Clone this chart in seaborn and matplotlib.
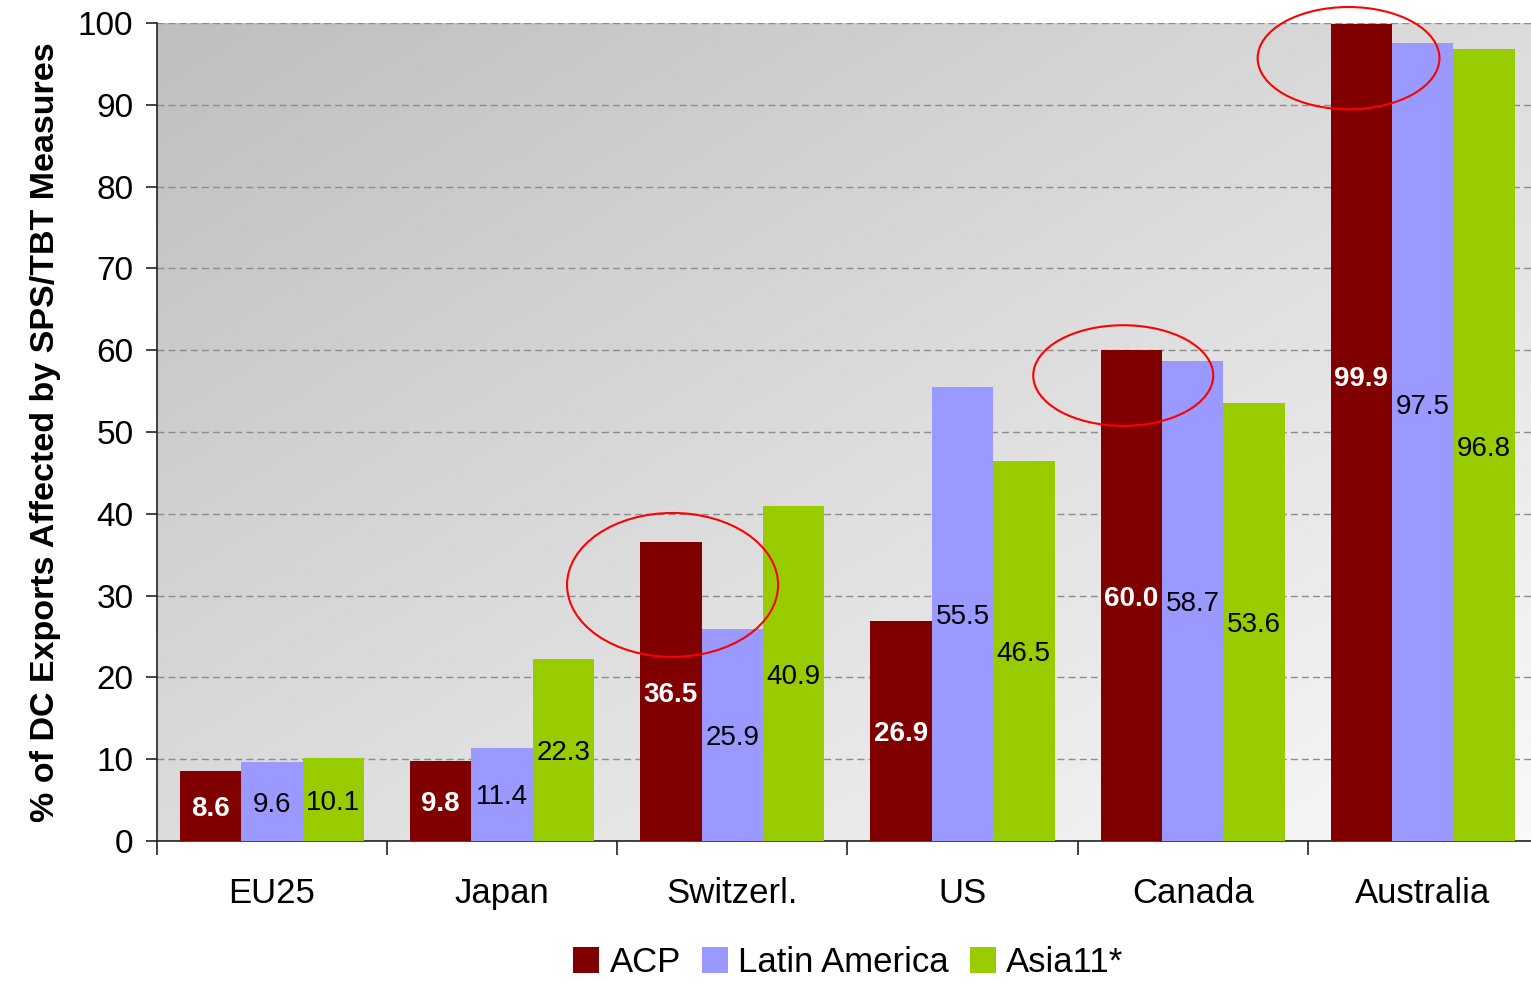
import numpy as np
import pandas as pd
import matplotlib
matplotlib.use("Agg")
import matplotlib.pyplot as plt
from matplotlib.patches import Ellipse, Patch
import seaborn as sns

# Share of developing-country exports affected by SPS/TBT measures
markets = ["EU25", "Japan", "Switzerl.", "US", "Canada", "Australia"]
groups = ["ACP", "Latin America", "Asia11*"]
acp = [8.6, 9.8, 36.5, 26.9, 60.0, 99.9]
latin_america = [9.6, 11.4, 25.9, 55.5, 58.7, 97.5]
asia11 = [10.1, 22.3, 40.9, 46.5, 53.6, 96.8]
y_ticks = list(range(0, 101, 10))
highlighted = ["Switzerl.", "Canada", "Australia"]

colors = ["#800000", "#9999FF", "#99CC00"]

df = pd.DataFrame({
    "market": np.repeat(markets, 3),
    "group": groups * len(markets),
    "value": np.ravel(np.column_stack([acp, latin_america, asia11])),
})

sns.set_theme(style="white")
plt.rcParams["font.family"] = ["Liberation Sans", "DejaVu Sans"]
plt.rcParams["text.color"] = "black"
plt.rcParams["axes.labelcolor"] = "black"
plt.rcParams["xtick.color"] = "black"
plt.rcParams["ytick.color"] = "black"

fig = plt.figure(figsize=(15.31, 9.82), dpi=100)
ax = fig.add_axes([0.1025, 0.1436, 0.902, 0.833])

# diagonal grey (top-left) to white (bottom-right) background
gx, gy = np.meshgrid(np.linspace(0, 1, 400), np.linspace(0, 1, 400))
t = np.clip((gx + gy) / 2, 0, 1)
shade = 0.745 + (0.975 - 0.745) * t
ax.imshow(shade, cmap="gray", vmin=0, vmax=1, extent=[0, 1, 0, 1],
          transform=ax.transAxes, aspect="auto", zorder=-10,
          interpolation="bilinear", origin="upper")

sns.barplot(data=df, x="market", y="value", hue="group", palette=colors,
            saturation=1, width=0.8, ax=ax, legend=False, zorder=3,
            linewidth=0)

ax.set_xlim(-0.5, len(markets) - 0.5)
ax.set_ylim(0, 100)
ax.set_yticks(y_ticks)
ax.yaxis.grid(True, linestyle=(0, (5, 3)), color="#8c8c8c", linewidth=1)
ax.set_axisbelow(True)
for s in ["top", "right"]:
    ax.spines[s].set_visible(False)
for s in ["left", "bottom"]:
    ax.spines[s].set_color("#222222")
    ax.spines[s].set_linewidth(1.2)

ax.tick_params(axis="y", left=True, length=8, width=1.2, color="#222222",
               labelsize=24, pad=9)
ax.tick_params(axis="x", bottom=False, labelsize=25, pad=20)
ax.set_xticks(np.arange(-0.5, len(markets)), minor=True)
ax.tick_params(axis="x", which="minor", bottom=True, length=10, width=1.2,
               color="#222222")
ax.set_xlabel("")
ax.set_ylabel("% of DC Exports Affected by SPS/TBT Measures",
              fontsize=24.5, fontweight="bold", labelpad=12)

# value labels centred in bars (Australia ones nudged as in the layout)
label_y_aus = [56.8, 53.4, 48.3]
for gi, cont in enumerate(ax.containers):
    for mi, bar in enumerate(cont):
        h = bar.get_height()
        x = bar.get_x() + bar.get_width() / 2
        y = h / 2
        if markets[mi] == "Australia":
            y = label_y_aus[gi]
        if gi == 0:
            ax.text(x, y, f"{h:.1f}", ha="center", va="center_baseline",
                    fontsize=20, color="white", fontweight="bold", zorder=5)
        else:
            ax.text(x, y, f"{h:.1f}", ha="center", va="center_baseline",
                    fontsize=20, color="black", zorder=5)

# red rings around the ACP bars of interest: (width, height, dy, dx)
ring_sizes = {"Switzerl.": (0.917, 17.6, -5.2, 0.007),
              "Canada": (0.782, 12.3, -3.1, -0.035),
              "Australia": (0.79, 12.5, -4.2, -0.056)}
acp_bars = ax.containers[0]
for name in highlighted:
    i = markets.index(name)
    bar = acp_bars[i]
    w, hgt, dy, dx = ring_sizes[name]
    cx = bar.get_x() + bar.get_width() / 2 + dx
    cy = bar.get_height() + dy
    ax.add_patch(Ellipse((cx, cy), w, hgt, fill=False, edgecolor="#FF0000",
                         linewidth=1.5, zorder=6, clip_on=False))

handles = [Patch(facecolor=c, edgecolor="none") for c in colors]
fig.legend(handles, groups, loc="lower center", bbox_to_anchor=(0.554, -0.029),
           ncol=3, frameon=False, fontsize=25, handlelength=0.75,
           handleheight=0.75, handletextpad=0.3, columnspacing=0.6)

fig.savefig("out.png", dpi=100)
